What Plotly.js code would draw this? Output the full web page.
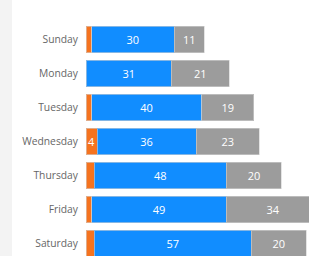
<!DOCTYPE html>
<html><head><meta charset="utf-8">
<script src="https://cdn.plot.ly/plotly-3.0.1.min.js"></script>
<style>
html,body{margin:0;padding:0;background:#fff;overflow:hidden;}
#strip{position:absolute;left:0;top:0;width:12px;height:256px;background:#f3f3f3;}
#chart{position:absolute;left:0;top:0;width:309px;height:256px;}
</style></head>
<body><div id="strip"></div><div id="chart"></div>
<script>
const days = ["Sunday","Monday","Tuesday","Wednesday","Thursday","Friday","Saturday"];
const orangeVals = [2, 0, 2, 4, 3, 2, 3];
const blueVals = [30, 31, 40, 36, 48, 49, 57];
const grayVals = [11, 21, 19, 23, 20, 34, 20];

function labels(vals){ return vals.map(v => v >= 4 ? String(v) : ""); }
const common = {
  type: "bar", orientation: "h", y: days,
  textposition: "inside", insidetextanchor: "middle",
  textfont: {family: "Open Sans, sans-serif", size: 11, color: "#ffffff"},
  hoverinfo: "none", constraintext: "none"
};
const traces = [
  Object.assign({}, common, {x: orangeVals, text: labels(orangeVals), marker: {color: "#F5731F", line: {color: "rgba(210,210,210,0.6)", width: 1}}}),
  Object.assign({}, common, {x: blueVals, text: labels(blueVals), marker: {color: "#118DFF", line: {color: "rgba(210,210,210,0.6)", width: 1}}}),
  Object.assign({}, common, {x: grayVals, text: labels(grayVals), marker: {color: "#9C9C9C", line: {color: "rgba(210,210,210,0.6)", width: 1}}})
];
const layout = {
  width: 309, height: 256,
  margin: {l: 86, r: 0, t: 0, b: 0},
  barmode: "stack", bargap: 0.22, showlegend: false,
  paper_bgcolor: "rgba(0,0,0,0)", plot_bgcolor: "rgba(0,0,0,0)",
  xaxis: {range: [0, 81], visible: false, fixedrange: true},
  yaxis: {type: "category", range: [6.374, -1.156], showgrid: false, zeroline: false, showline: false,
          ticks: "", ticklabelstandoff: 7,
          tickfont: {family: "Open Sans, sans-serif", size: 10.3, color: "#666666"}},
  font: {family: "Open Sans, sans-serif"}
};
Plotly.newPlot("chart", traces, layout, {displayModeBar: false, staticPlot: true});
</script></body></html>
